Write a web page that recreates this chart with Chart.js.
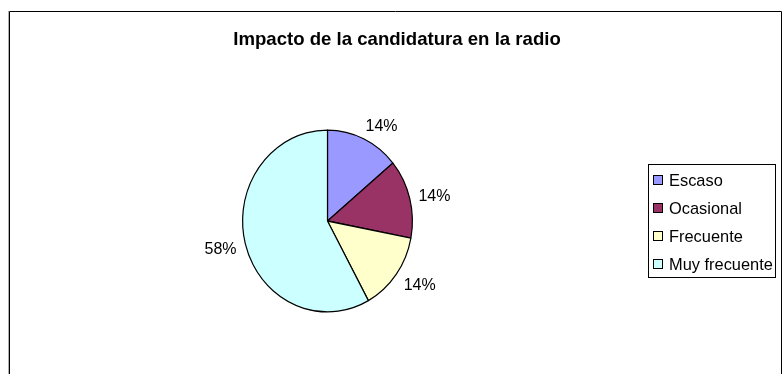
<!DOCTYPE html>
<html>
<head>
<meta charset="utf-8">
<script src="https://cdn.jsdelivr.net/npm/chart.js@4/dist/chart.umd.min.js"></script>
<style>
  html, body { margin: 0; padding: 0; background: #ffffff; }
  #wrap { position: relative; width: 784px; height: 374px; }
</style>
</head>
<body>
<div id="wrap"><canvas id="chart" width="784" height="374"></canvas></div>
<script>
// Chart data
const categories = ['Escaso', 'Ocasional', 'Frecuente', 'Muy frecuente'];
const percentages = [14, 14, 14, 58];
const sliceColors = ['#9999FF', '#993366', '#FFFFCC', '#CCFFFF'];
const chartTitle = 'Impacto de la candidatura en la radio';

const FONT = '"Liberation Sans", Arial, Helvetica, sans-serif';
const STRETCH_Y = 91 / 85; // the pie is drawn slightly taller than wide

// Outer frame, title and legend box
const decorPlugin = {
  id: 'decor',
  beforeDraw(chart) {
    const ctx = chart.ctx;
    ctx.save();
    ctx.fillStyle = '#ffffff';
    ctx.fillRect(0, 0, chart.width, chart.height);
    ctx.strokeStyle = '#b0b0b0';
    ctx.lineWidth = 1;
    ctx.beginPath();
    ctx.moveTo(8.5, 11);
    ctx.lineTo(8.5, chart.height + 2);
    ctx.stroke();
    ctx.strokeStyle = '#000000';
    ctx.beginPath();
    ctx.rect(9.5, 11.5, 772, chart.height + 10);
    ctx.stroke();

    ctx.fillStyle = '#000000';
    ctx.font = 'bold 18.6px ' + FONT;
    ctx.textAlign = 'center';
    ctx.textBaseline = 'alphabetic';
    ctx.fillText(chartTitle, 397, 45);
    ctx.restore();
  },
  afterDraw(chart) {
    const ctx = chart.ctx;
    const ds = chart.data.datasets[0];
    ctx.save();
    ctx.strokeStyle = '#000000';
    ctx.lineWidth = 1;
    ctx.strokeRect(648.5, 164.5, 127, 113);
    ctx.font = '16.4px ' + FONT;
    ctx.textAlign = 'left';
    ctx.textBaseline = 'middle';
    chart.data.labels.forEach((lab, i) => {
      const y = 180 + i * 28;
      ctx.fillStyle = ds.backgroundColor[i];
      ctx.fillRect(653.5, y - 4.5, 9, 9);
      ctx.strokeStyle = '#000000';
      ctx.strokeRect(653.5, y - 4.5, 9, 9);
      ctx.fillStyle = '#000000';
      ctx.fillText(lab, 669, y + 1);
    });
    ctx.restore();
  }
};

// Vertical stretch of the pie around its centre
const stretchPlugin = {
  id: 'stretch',
  beforeDatasetsDraw(chart) {
    const arc = chart.getDatasetMeta(0).data[0];
    const ctx = chart.ctx;
    ctx.save();
    ctx.translate(arc.x, arc.y);
    ctx.scale(1, STRETCH_Y);
    ctx.translate(-arc.x, -arc.y);
  },
  afterDatasetsDraw(chart) {
    chart.ctx.restore();
  }
};

// Percentage labels outside each slice
const outsideLabels = {
  id: 'outsideLabels',
  afterDatasetsDraw(chart) {
    const ctx = chart.ctx;
    const meta = chart.getDatasetMeta(0);
    const values = chart.data.datasets[0].data;
    ctx.save();
    ctx.font = '16px ' + FONT;
    ctx.fillStyle = '#000000';
    ctx.textAlign = 'center';
    ctx.textBaseline = 'middle';
    const gap = 8, hw = 17, hh = 7;
    meta.data.forEach((arc, i) => {
      const mid = (arc.startAngle + arc.endAngle) / 2;
      const dx = Math.cos(mid), dy = Math.sin(mid);
      const r = arc.outerRadius;
      const ex = arc.x + dx * (r + gap);
      const ey = arc.y + dy * (r * STRETCH_Y + gap);
      const sx = Math.max(-1, Math.min(1, dx * 2)) * hw;
      const sy = Math.max(-1, Math.min(1, dy * 1.2)) * hh;
      ctx.fillText(values[i] + '%', ex + sx, ey + sy + 2);
    });
    ctx.restore();
  }
};

new Chart(document.getElementById('chart'), {
  type: 'pie',
  data: {
    labels: categories,
    datasets: [{
      data: percentages,
      backgroundColor: sliceColors,
      borderColor: '#000000',
      borderWidth: 1.2,
      clip: false
    }]
  },
  options: {
    responsive: false,
    animation: false,
    events: [],
    layout: { padding: { left: 242, right: 371, top: 135, bottom: 67 } },
    plugins: {
      legend: { display: false },
      title: { display: false },
      tooltip: { enabled: false }
    }
  },
  plugins: [decorPlugin, stretchPlugin, outsideLabels]
});
</script>
</body>
</html>
